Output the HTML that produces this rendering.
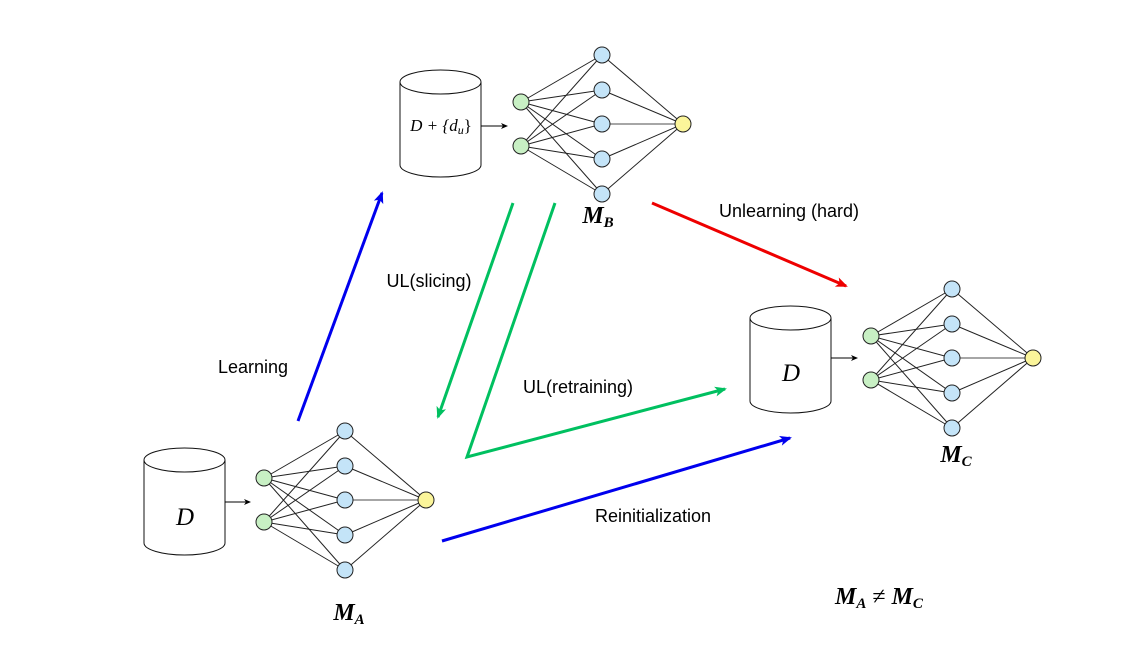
<!DOCTYPE html>
<html><head><style>body{margin:0;background:#fff}svg{display:block}</style></head><body>
<svg width="1136" height="651" viewBox="0 0 1136 651" xmlns="http://www.w3.org/2000/svg">
<defs>
<marker id="ab" markerWidth="8" markerHeight="8" refX="6" refY="3" orient="auto" markerUnits="userSpaceOnUse"><path d="M0,0 L7,3 L0,6 L2,3 z" fill="#000"/></marker>
<marker id="ablue" markerWidth="14" markerHeight="12" refX="10" refY="5" orient="auto" markerUnits="userSpaceOnUse"><path d="M0,0 L12,5 L0,10 L3,5 z" fill="#0000ee"/></marker>
<marker id="agreen" markerWidth="14" markerHeight="12" refX="10" refY="5" orient="auto" markerUnits="userSpaceOnUse"><path d="M0,0 L12,5 L0,10 L3,5 z" fill="#00c060"/></marker>
<marker id="ared" markerWidth="14" markerHeight="12" refX="10" refY="5" orient="auto" markerUnits="userSpaceOnUse"><path d="M0,0 L12,5 L0,10 L3,5 z" fill="#ee0000"/></marker>
<g id="net">
<g stroke="#222" stroke-width="1">
<line x1="0" y1="-22" x2="81" y2="-69"/><line x1="0" y1="-22" x2="81" y2="-34"/><line x1="0" y1="-22" x2="81" y2="0"/><line x1="0" y1="-22" x2="81" y2="35"/><line x1="0" y1="-22" x2="81" y2="70"/>
<line x1="0" y1="22" x2="81" y2="-69"/><line x1="0" y1="22" x2="81" y2="-34"/><line x1="0" y1="22" x2="81" y2="0"/><line x1="0" y1="22" x2="81" y2="35"/><line x1="0" y1="22" x2="81" y2="70"/>
<line x1="81" y1="-69" x2="162" y2="0"/><line x1="81" y1="-34" x2="162" y2="0"/><line x1="81" y1="0" x2="162" y2="0" stroke="#888" stroke-width="1.6"/><line x1="81" y1="35" x2="162" y2="0"/><line x1="81" y1="70" x2="162" y2="0"/>
</g>
<g stroke="#222" stroke-width="1">
<circle cx="0" cy="-22" r="8" fill="#c8f0c4"/><circle cx="0" cy="22" r="8" fill="#c8f0c4"/>
<circle cx="81" cy="-69" r="8" fill="#c4e4f8"/><circle cx="81" cy="-34" r="8" fill="#c4e4f8"/><circle cx="81" cy="0" r="8" fill="#c4e4f8"/><circle cx="81" cy="35" r="8" fill="#c4e4f8"/><circle cx="81" cy="70" r="8" fill="#c4e4f8"/>
<circle cx="162" cy="0" r="8" fill="#fbf59a"/>
</g>
</g>
<g id="cyl" fill="#fff" stroke="#111" stroke-width="1">
<path d="M0,12 L0,95 A40.5,12 0 0 0 81,95 L81,12"/>
<ellipse cx="40.5" cy="12" rx="40.5" ry="12"/>
</g>
</defs>
<use href="#net" x="264" y="500"/>
<use href="#net" x="521" y="124"/>
<use href="#net" x="871" y="358"/>
<use href="#cyl" x="144" y="448"/>
<use href="#cyl" x="400" y="70"/>
<use href="#cyl" x="750" y="306"/>
<g stroke="#000" stroke-width="1"><line x1="225" y1="502" x2="250" y2="502" marker-end="url(#ab)"/><line x1="481" y1="126" x2="507" y2="126" marker-end="url(#ab)"/><line x1="831" y1="358" x2="857" y2="358" marker-end="url(#ab)"/></g>
<g font-family="Liberation Serif, serif" font-style="italic" text-anchor="middle">
<text x="185" y="525" font-size="25">D</text>
<text x="441" y="131" font-size="17">D + {d<tspan font-size="12" dy="3">u</tspan><tspan dy="-3" font-style="normal">}</tspan></text>
<text x="791" y="381" font-size="25">D</text>
<g font-weight="bold">
<text x="598" y="223" font-size="24">M<tspan font-size="15" dy="4">B</tspan></text>
<text x="349" y="620" font-size="24">M<tspan font-size="15" dy="4">A</tspan></text>
<text x="956" y="462" font-size="24">M<tspan font-size="15" dy="4">C</tspan></text>
<text x="879" y="604" font-size="24">M<tspan font-size="15" dy="4">A</tspan><tspan dy="-4" font-style="normal" font-weight="normal"> ≠ </tspan>M<tspan font-size="15" dy="4">C</tspan></text>
</g>
</g>
<g fill="none" stroke-width="3">
<line x1="298" y1="421" x2="382" y2="193" stroke="#0000ee" marker-end="url(#ablue)"/>
<line x1="513" y1="203" x2="438" y2="417" stroke="#00c060" marker-end="url(#agreen)"/>
<polyline points="555,203 467,457 725,389" stroke="#00c060" marker-end="url(#agreen)"/>
<line x1="652" y1="203" x2="846" y2="286" stroke="#ee0000" marker-end="url(#ared)"/>
<line x1="442" y1="541" x2="790" y2="438" stroke="#0000ee" marker-end="url(#ablue)"/>
</g>
<g font-family="Liberation Sans, sans-serif" font-size="18" fill="#000" text-anchor="middle">
<text x="253" y="373">Learning</text>
<text x="429" y="287">UL(slicing)</text>
<text x="578" y="393">UL(retraining)</text>
<text x="789" y="217">Unlearning (hard)</text>
<text x="653" y="522">Reinitialization</text>
</g>
</svg>
</body></html>
